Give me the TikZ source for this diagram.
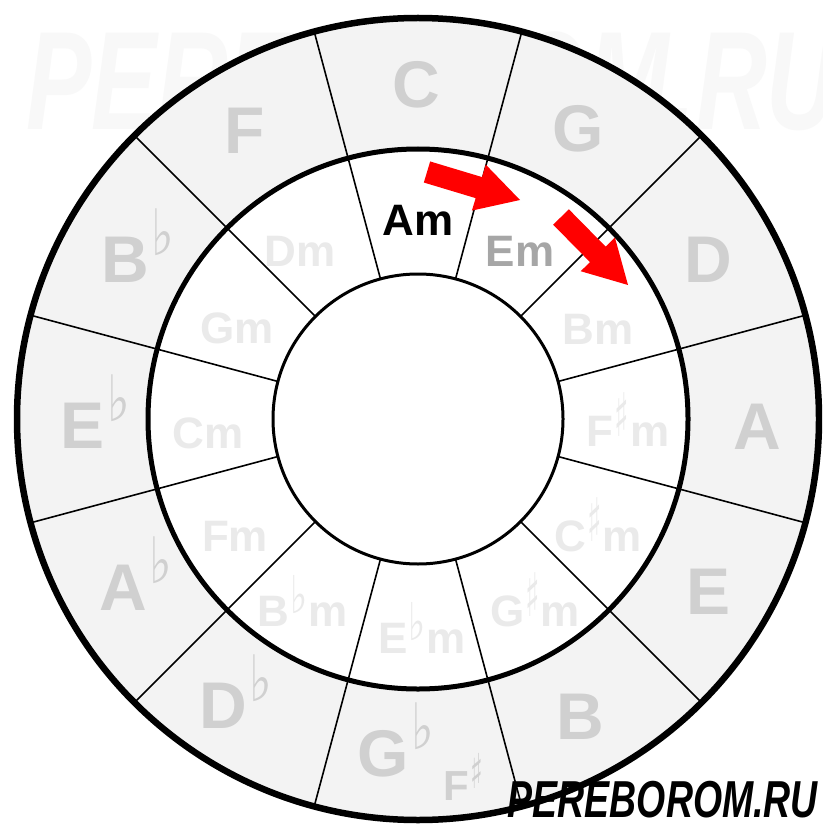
\documentclass[tikz,border=0pt]{standalone}
\usepackage{graphicx}
\usepackage{fontspec}
\setmainfont{Liberation Sans}
\newfontfamily\symfont{DejaVu Sans}
\usetikzlibrary{calc}
\definecolor{ringfill}{HTML}{F3F3F3}
\definecolor{majcol}{HTML}{D0D0D0}
\definecolor{mincol}{HTML}{EAEAEA}
\definecolor{emcol}{HTML}{A6A6A6}
\definecolor{wmcol}{HTML}{F8F8F8}
\definecolor{arrred}{HTML}{FF0000}
\newcommand{\bigflat}{\hspace{3pt}\raisebox{27pt}{\fontsize{64}{64}\selectfont\symfont\scalebox{0.75}[1]{\char"266D}}}
\newcommand{\smallflat}{\hspace{1pt}\raisebox{13pt}{\fontsize{52}{52}\selectfont\symfont\scalebox{0.7}[1]{\char"266D}}\hspace{1pt}}
\newcommand{\smallsharp}{\hspace{1pt}\raisebox{10pt}{\fontsize{60}{60}\selectfont\symfont\scalebox{0.5}[1]{\char"266F}}\hspace{1pt}}
\newcommand{\tinysharp}{\hspace{2pt}\raisebox{12pt}{\fontsize{48}{48}\selectfont\symfont\scalebox{0.55}[1]{\char"266F}}}
\tikzset{
  majlabel/.style={font=\fontsize{66}{66}\selectfont\bfseries, text=majcol, inner sep=0pt},
  minlabel/.style={font=\fontsize{44}{44}\selectfont\bfseries, text=mincol, inner sep=0pt, anchor=base},
  spoke/.style={line width=1.6pt, draw=black},
  redarrow/.style={fill=arrred, draw=none},
}
\begin{document}
\begin{tikzpicture}[x=1pt,y=-1pt]
\useasboundingbox (0,0) rectangle (822,826);
\clip (0,0) rectangle (822,826);
\fill[white] (0,0) rectangle (822,826);
% faint watermark
\node[inner sep=0pt, anchor=base, text=wmcol, font=\fontsize{140}{140}\selectfont\bfseries\itshape, xscale=0.7] (wm) at (432,130) {PEREBOROM.RU};

\coordinate (c) at (418,419);
% rings
\fill[ringfill] (c) circle (401);
\fill[white] (c) circle (270);
\foreach \a in {15,45,...,345} {
  \draw[spoke] ($(c)+(\a:145)$) -- ($(c)+(\a:401)$);
}
\fill[white] (c) circle (145);
\draw[line width=6.5pt] (c) circle (401);
\draw[line width=5pt] (c) circle (270);
\draw[line width=3pt] (c) circle (145);

% major keys
\node[majlabel, anchor=base] (kC) at (416,108) {C};
\node[majlabel, anchor=base] (kG) at (578,152) {G};
\node[majlabel, anchor=base] (kD) at (708,282) {D};
\node[majlabel, anchor=base] (kA) at (757,449) {A};
\node[majlabel, anchor=base] (kE) at (708,614) {E};
\node[majlabel, anchor=base] (kB) at (580,739) {B};
\node[majlabel, anchor=base west] (kGb) at (357,776) {G\bigflat};
\node[majlabel, anchor=base west] (kDb) at (199,728) {D\bigflat};
\node[majlabel, anchor=base west] (kAb) at (99,610) {A\bigflat};
\node[majlabel, anchor=base west] (kEb) at (60,448) {E\bigflat};
\node[majlabel, anchor=base west] (kBb) at (101,282) {B\bigflat};
\node[majlabel, anchor=base] (kF) at (245,154) {F};
\node[inner sep=0pt, anchor=base west, text=majcol, font=\fontsize{42}{42}\selectfont\bfseries] (kFs) at (443,800) {F\tinysharp};

% minor keys
\node[minlabel, text=black] (mAm) at (418,236) {Am};
\node[minlabel, text=emcol] (mEm) at (520,266) {Em};
\node[minlabel] (mBm) at (598,344) {Bm};
\node[minlabel] (mFsm) at (628,446) {F\smallsharp m};
\node[minlabel] (mCsm) at (598,551) {C\smallsharp m};
\node[minlabel] (mGsm) at (535,626) {G\smallsharp m};
\node[minlabel] (mEbm) at (422,653) {E\smallflat m};
\node[minlabel] (mBbm) at (303,626) {B\smallflat m};
\node[minlabel] (mFm) at (235,551) {Fm};
\node[minlabel] (mCm) at (208,448) {Cm};
\node[minlabel] (mGm) at (237,343) {Gm};
\node[minlabel] (mDm) at (300,266) {Dm};

% red arrows
\coordinate (a1t) at (427,172);
\coordinate (a1h) at (520,200);
\coordinate (a1b) at ($(a1h)!43pt!(a1t)$);
\fill[redarrow] ($(a1t)!11pt!90:(a1h)$) -- ($(a1b)!11pt!-90:(a1t)$) -- ($(a1b)!24pt!-90:(a1t)$) -- (a1h)
  -- ($(a1b)!24pt!90:(a1t)$) -- ($(a1b)!11pt!90:(a1t)$) -- ($(a1t)!11pt!-90:(a1h)$) -- cycle;
\coordinate (a2t) at (561,217);
\coordinate (a2h) at (628,285);
\coordinate (a2b) at ($(a2h)!43pt!(a2t)$);
\fill[redarrow] ($(a2t)!11pt!90:(a2h)$) -- ($(a2b)!11pt!-90:(a2t)$) -- ($(a2b)!24pt!-90:(a2t)$) -- (a2h)
  -- ($(a2b)!24pt!90:(a2t)$) -- ($(a2b)!11pt!90:(a2t)$) -- ($(a2t)!11pt!-90:(a2h)$) -- cycle;

% signature
\node[inner sep=0pt, anchor=base east, text=black, font=\fontsize{52}{52}\selectfont\bfseries\itshape, xscale=0.72] (sig) at (818,817) {PEREBOROM.RU};
\end{tikzpicture}
\end{document}
